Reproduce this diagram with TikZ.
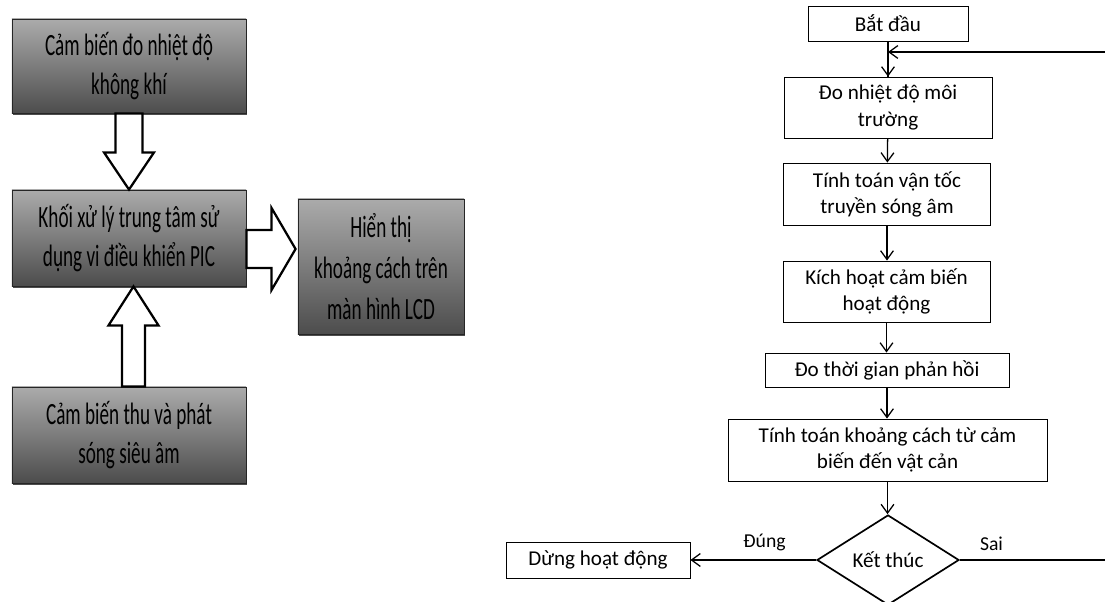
\documentclass[tikz,border=0pt]{standalone}
\usepackage{fontspec}
\setmainfont{Carlito}
\newfontfamily\narrowfont[FakeStretch=0.62]{Carlito}
\usepackage{tikz}
\usetikzlibrary{shapes.geometric,arrows.meta,positioning,calc,shadows}

\begin{document}
\begin{tikzpicture}[x=0.025cm, y=-0.025cm, >={Straight Barb[length=2.2mm,width=3.2mm]},
    graybox/.style={rectangle, draw=black!85, line width=0.6pt, top color=black!33, bottom color=black!70,
        drop shadow={shadow xshift=0.6pt, shadow yshift=-1.6pt, opacity=0.7, fill=black},
        align=center, inner sep=0pt, font=\narrowfont\fontsize{22}{27.5}\selectfont},
    flowbox/.style={rectangle, draw, line width=0.6pt, fill=white, align=center, inner sep=0pt,
        font=\fontsize{15}{18.5}\selectfont},
    decision/.style={diamond, draw, line width=1.2pt, inner sep=0pt, minimum width=3.55cm, minimum height=2.25cm,
        font=\fontsize{15}{18.5}\selectfont},
    lab/.style={font=\fontsize{14}{16}\selectfont},
    hollow/.style={draw, fill=white, line width=1.6pt, line join=miter},
    link/.style={->, line width=0.9pt}]

    \clip (0,0) rectangle (1105,602);
    \fill[white] (0,0) rectangle (1105,602);

    % Left side - block diagram
    \node[graybox, minimum width=5.85cm, minimum height=2.35cm] (sensT) at (129,66) {Cảm biến đo nhiệt độ\\không khí};
    \node[graybox, minimum width=5.85cm, minimum height=2.4cm] (cpu) at (129,238) {Khối xử lý trung tâm sử\\dụng vi điều khiển PIC};
    \node[graybox, minimum width=5.85cm, minimum height=2.4cm] (sensU) at (129,435) {Cảm biến thu và phát\\sóng siêu âm};
    \node[graybox, minimum width=4.15cm, minimum height=3.375cm, font=\narrowfont\fontsize{22}{29}\selectfont] (lcd) at (381,266.5) {Hiển thị\\khoảng cách trên\\màn hình LCD};

    % hollow block arrows
    \draw[hollow] ($(sensT.south)+(-13.5,0)$) -- ++(0,39) -- ++(-11.5,0) -- (cpu.north)
        -- ($(sensT.south)+(25,39)$) -- ++(-11.5,0) -- ($(sensT.south)+(13.5,0)$) -- cycle;

    \coordinate (upB) at ($(sensU.north)+(4.5,0)$);
    \coordinate (upT) at ($(cpu.south)+(4.5,0)$);
    \draw[hollow] ($(upB)+(-11.5,0)$) -- ($(upT)+(-11.5,39)$) -- ($(upT)+(-25,39)$) -- (upT)
        -- ($(upT)+(25,39)$) -- ($(upT)+(11.5,39)$) -- ($(upB)+(11.5,0)$) -- cycle;

    \coordinate (rB) at ($(cpu.east)+(0,11)$);
    \coordinate (rT) at ($(lcd.west |- rB)+(-2,0)$);
    \draw[hollow] ($(rB)+(0,-19)$) -- ($(rT)+(-24,-19)$) -- ($(rT)+(-24,-41)$) -- (rT)
        -- ($(rT)+(-24,41)$) -- ($(rT)+(-24,19)$) -- ($(rB)+(0,19)$) -- cycle;

    % Right side - flowchart
    \node[flowbox, minimum width=4cm, minimum height=0.875cm] (start) at (888,23.5) {Bắt đầu};
    \node[flowbox, minimum width=5.2cm, minimum height=1.525cm] (temp) at (888,107.5) {Đo nhiệt độ môi\\trường};
    \node[flowbox, minimum width=5.175cm, minimum height=1.55cm] (speed) at (887,194) {Tính toán vận tốc\\truyền sóng âm};
    \node[flowbox, minimum width=5.175cm, minimum height=1.525cm] (trig) at (886.5,291.5) {Kích hoạt cảm biến\\hoạt động};
    \node[flowbox, minimum width=6.1cm, minimum height=0.85cm] (echo) at (887,370) {Đo thời gian phản hồi};
    \node[flowbox, minimum width=7.975cm, minimum height=1.55cm] (dist) at (887.5,450) {Tính toán khoảng cách từ cảm\\biến đến vật cản};
    \node[decision] (endq) at (888,560) {Kết thúc};
    \node[flowbox, minimum width=4.6cm, minimum height=0.9cm] (stop) at (598,560) {Dừng hoạt động};

    % Arrows
    \coordinate (merge) at (start.south |- 0,52);
    \coordinate (loopR) at (1120,560);
    \draw[line width=0.9pt] (start.south) -- (temp.north);
    \draw[link] (merge) -- (temp.north);
    \draw[link] (temp) -- (speed);
    \draw[link] (speed) -- (speed |- trig.north);
    \draw[link] (trig) -- (trig |- echo.north);
    \draw[link] (echo) -- (echo |- dist.north);
    \draw[link] (dist) -- (dist |- endq.north);
    \draw[link] (endq) -- node[lab, above=3pt, pos=0.5, xshift=8pt] {Đúng} (stop);
    \draw[link] (endq.east) -- node[lab, above=3pt, pos=0.18, xshift=2pt] {Sai} (loopR) |- (merge);

\end{tikzpicture}
\end{document}
